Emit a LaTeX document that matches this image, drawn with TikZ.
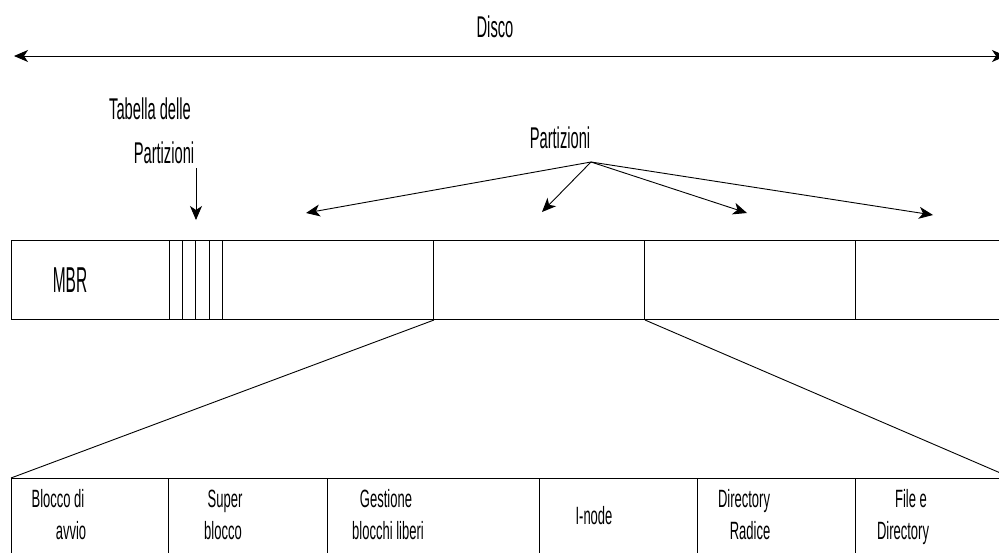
\documentclass[tikz,border=0pt]{standalone}
\usepackage{fontspec}
\setmainfont{Liberation Sans}[FakeStretch=0.49]
\newfontfamily\mbrfont{Liberation Sans}[FakeStretch=0.43]
\newfontfamily\blockfont{Liberation Sans}[FakeStretch=0.52]
\usetikzlibrary{arrows.meta}
\begin{document}
\begin{tikzpicture}[x=1pt,y=-1pt,
  seg/.style={draw,line width=1pt,minimum height=79pt,inner sep=0pt,anchor=north west},
  bseg/.style={draw,line width=1pt,minimum height=80pt,inner sep=0pt,anchor=north west},
  lbl/.style={inner sep=0pt,anchor=base,font=\fontsize{30}{34}\selectfont},
  slbl/.style={inner sep=0pt,anchor=base,font=\blockfont\fontsize{25}{29}\selectfont},
  tip/.style={Stealth[length=14pt,width=12pt,inset=4pt]},
  arr/.style={line width=0.9pt,-{Stealth[length=14pt,width=12pt,inset=4pt]}},
  link/.style={line width=0.9pt}]
\useasboundingbox (0,0) rectangle (999,552);

% whole-disk arrow
\node[lbl] (disco) at (495,37) {Disco};
\coordinate (dl) at (14,56);
\coordinate (dr) at (1006,56);
\draw[line width=0.9pt,{Stealth[length=14pt,width=12pt,inset=4pt]}-{Stealth[length=14pt,width=12pt,inset=4pt]}] (dl) -- (dr);

% disk bar
\node[seg,minimum width=158pt] (mbr) at (11,240) {};
\node[seg,minimum width=13pt] (t1) at (169,240) {};
\node[seg,minimum width=13pt] (t2) at (182,240) {};
\node[seg,minimum width=14pt] (t3) at (195,240) {};
\node[seg,minimum width=13pt] (t4) at (209,240) {};
\node[seg,minimum width=211pt] (p1) at (222,240) {};
\node[seg,minimum width=211pt] (p2) at (433,240) {};
\node[seg,minimum width=211pt] (p3) at (644,240) {};
\node[seg,minimum width=211pt] (p4) at (855,240) {};
\node[inner sep=0pt,anchor=base,font=\mbrfont\fontsize{36}{40}\selectfont] (mbrtxt) at (70,292) {MBR};

% partition table label
\node[lbl] (tab1) at (150,119) {Tabella delle};
\node[lbl] (tab2) at (164,163) {Partizioni};
\coordinate (ts) at (196,168);
\coordinate (te) at (196,220);
\draw[arr] (ts) -- (te);

% partitions label and arrows
\node[lbl] (part) at (560,148) {Partizioni};
\coordinate (ps) at (591,162);
\coordinate (a1) at (306,213);
\coordinate (a2) at (542,212);
\coordinate (a3) at (747,213);
\coordinate (a4) at (933,215);
\draw[arr] (ps) -- (a1);
\draw[arr] (ps) -- (a2);
\draw[arr] (ps) -- (a3);
\draw[arr] (ps) -- (a4);

% partition layout bar
\node[bseg,minimum width=157pt] (b1) at (11,478) {};
\node[bseg,minimum width=159pt] (b2) at (168,478) {};
\node[bseg,minimum width=212pt] (b3) at (327,478) {};
\node[bseg,minimum width=158pt] (b4) at (539,478) {};
\node[bseg,minimum width=158pt] (b5) at (697,478) {};
\node[bseg,minimum width=160pt] (b6) at (855,478) {};

% zoom lines
\coordinate (zr) at (1012,478);
\draw[link] (p1.south east) -- (b1.north west);
\draw[link] (p2.south east) -- (zr);

% block labels
\node[slbl] (l1a) at (58,507) {Blocco di};
\node[slbl] (l1b) at (71,539) {avvio};
\node[slbl] (l2a) at (225,507) {Super};
\node[slbl] (l2b) at (223,539) {blocco};
\node[slbl] (l3a) at (386,507) {Gestione};
\node[slbl] (l3b) at (388,539) {blocchi liberi};
\node[slbl] (l4) at (594,524) {I-node};
\node[slbl] (l5a) at (744,507) {Directory};
\node[slbl] (l5b) at (750,539) {Radice};
\node[slbl] (l6a) at (911,507) {File e};
\node[slbl] (l6b) at (903,539) {Directory};
\end{tikzpicture}
\end{document}
